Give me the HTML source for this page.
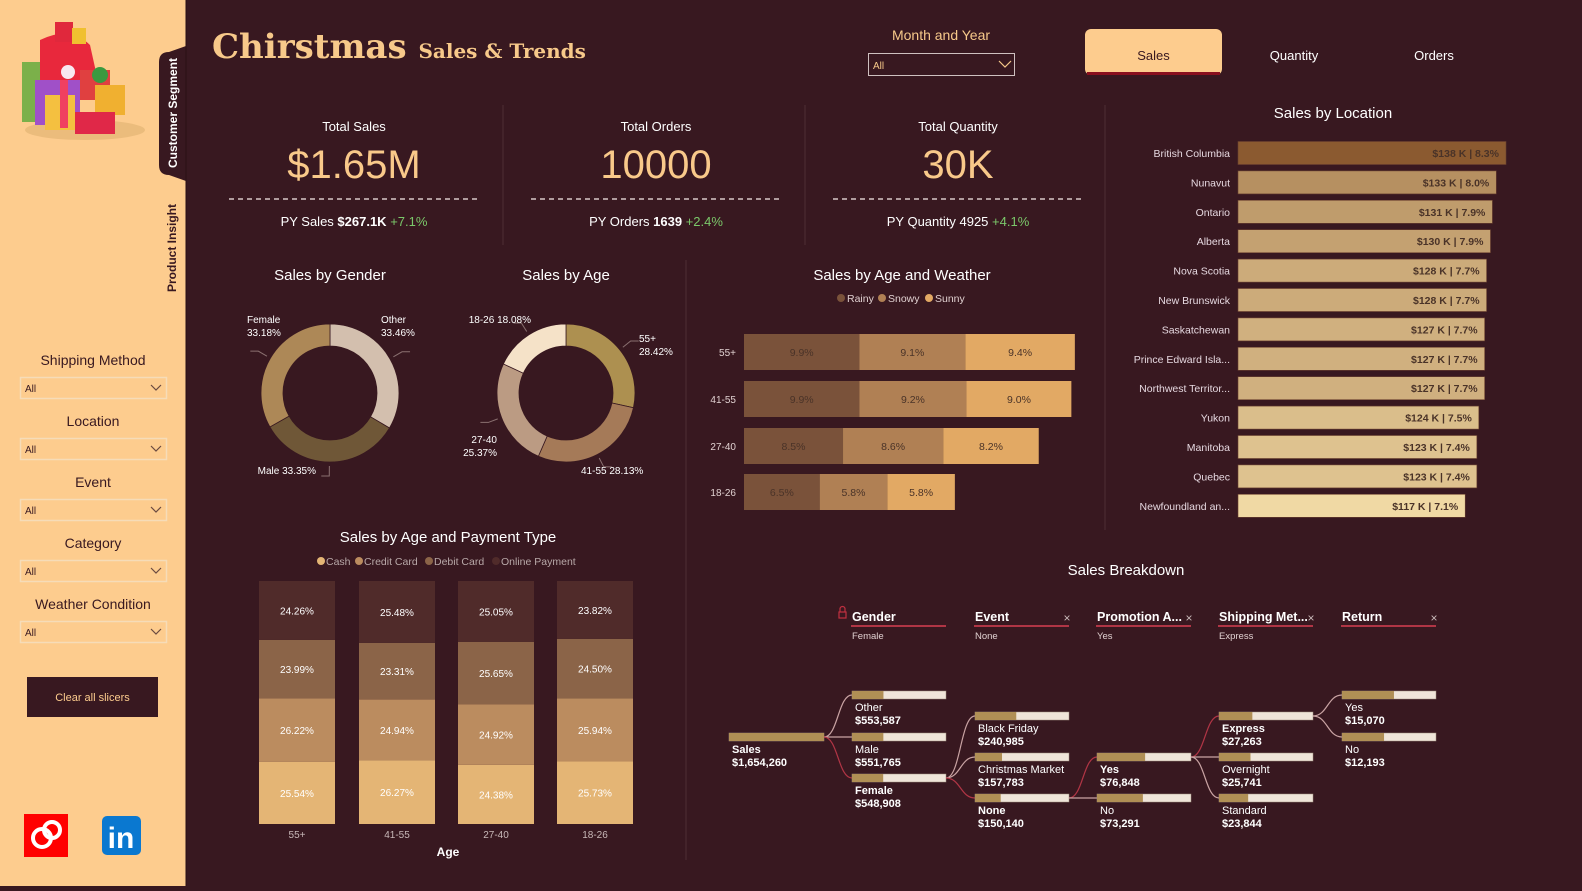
<!DOCTYPE html>
<html><head><meta charset="utf-8">
<style>
html,body{margin:0;padding:0;}
body{width:1582px;height:886px;background:#381820;position:relative;overflow:hidden;font-family:"Liberation Sans",sans-serif;}
svg text{font-family:"Liberation Sans",sans-serif;}
</style></head>
<body>
<svg id="s" width="1582" height="886" xmlns="http://www.w3.org/2000/svg">
  <rect x="0" y="0" width="1582" height="886" fill="#381820"/>
  <g>
    <rect x="0" y="0" width="186" height="886" fill="#fdcc8e"/>
    <g>
      <ellipse cx="85" cy="130" rx="60" ry="10" fill="#e0b070" opacity="0.6"/>
      <rect x="22" y="62" width="20" height="60" fill="#7bb04a"/>
      <path d="M40 40 Q70 25 90 45 L100 90 L40 95 Z" fill="#e8283c"/>
      <rect x="35" y="80" width="45" height="45" fill="#a050c8"/>
      <rect x="45" y="95" width="30" height="35" fill="#f4c040"/>
      <rect x="60" y="80" width="8" height="48" fill="#f04060"/>
      <rect x="80" y="70" width="30" height="30" fill="#e04040"/>
      <rect x="95" y="85" width="30" height="30" fill="#f0b030"/>
      <rect x="75" y="112" width="40" height="22" fill="#e02848"/>
      <rect x="55" y="22" width="18" height="20" fill="#e0283c"/>
      <rect x="72" y="28" width="14" height="16" fill="#f0c030"/>
      <circle cx="68" cy="72" r="7" fill="#f8e8f0"/>
      <circle cx="100" cy="75" r="8" fill="#3a9a40"/>
    </g>
    <path d="M159 62 Q159 52 169 52 L186 46 L186 181 L169 175 Q159 175 159 165 Z" fill="#381820"/>
    <text transform="translate(177,113) rotate(-90)" text-anchor="middle" font-size="12" font-weight="bold" fill="#ffffff">Customer Segment</text>
    <text transform="translate(176,248) rotate(-90)" text-anchor="middle" font-size="12" font-weight="bold" fill="#381820">Product Insight</text>
    <g id="slicers"></g>
    <rect x="27" y="677" width="131" height="40" fill="#381820"/>
    <text x="92.5" y="701" text-anchor="middle" font-size="11" fill="#fdcc8e">Clear all slicers</text>
    <g>
      <rect x="24" y="814" width="44" height="43" fill="#ff0000"/>
      <circle cx="42" cy="838" r="9" fill="none" stroke="#fff" stroke-width="4"/>
      <circle cx="52" cy="830" r="8" fill="none" stroke="#fff" stroke-width="4"/>
    </g>
    <g>
      <rect x="102" y="816" width="39" height="39" rx="5" fill="#0a78d0"/>
      <text x="121" y="848" text-anchor="middle" font-size="30" font-weight="bold" fill="#fff">in</text>
    </g>
  </g>
  <line x1="186" y1="0" x2="186" y2="886" stroke="#2a1015" stroke-width="1"/>

  <text x="212" y="58" font-weight="bold" font-size="34" fill="#f7c98a" style="font-family:'DejaVu Serif',serif">Chirstmas <tspan font-size="20">Sales &amp; Trends</tspan></text>

  <text x="941" y="40" text-anchor="middle" font-size="14" fill="#f7c98a">Month and Year</text>
  <rect x="868.5" y="53.5" width="146" height="22" fill="none" stroke="#cfc0c0"/>
  <text x="873" y="69" font-size="10" fill="#f7c98a">All</text>
  <path d="M999 61 L1005 67 L1011 61" fill="none" stroke="#f7c98a" stroke-width="1.2"/>

  <rect x="1085" y="29" width="137" height="46" rx="6" fill="#fdcc8e"/>
  <rect x="1087" y="72" width="133" height="3" fill="#8a0f1e"/>
  <text x="1153.5" y="60" text-anchor="middle" font-size="13" fill="#381820">Sales</text>
  <text x="1294" y="60" text-anchor="middle" font-size="13" fill="#ffffff">Quantity</text>
  <text x="1434" y="60" text-anchor="middle" font-size="13" fill="#ffffff">Orders</text>

  <g stroke="#43232a" stroke-width="2" fill="none">
    <line x1="503" y1="105" x2="503" y2="245"/>
    <line x1="805" y1="105" x2="805" y2="245"/>
    <line x1="1105" y1="105" x2="1105" y2="530"/>
    <line x1="686" y1="260" x2="686" y2="860"/>
  </g>

  <g id="kpis"></g>
  <g id="gender"></g>
  <g id="age"></g>
  <g id="weather"></g>
  <g id="location"></g>
  <g id="payment"></g>
  <g id="tree"></g>
</svg>

<script>
const NS="http://www.w3.org/2000/svg";
function el(tag,attrs,parent,txt){const e=document.createElementNS(NS,tag);for(const k in attrs)e.setAttribute(k,attrs[k]);if(txt!==undefined)e.textContent=txt;parent.appendChild(e);return e;}
const $=id=>document.getElementById(id);

const slicerLabels=["Shipping Method","Location","Event","Category","Weather Condition"];
const kpiTitles=["Total Sales","Total Orders","Total Quantity"];
const kpiValues=["$1.65M","10000","30K"];
const kpiPyLabels=["PY Sales","PY Orders","PY Quantity"];
const kpiPyValues=["$267.1K","1639","4925"];
const kpiPyBold=[true,true,false];
const kpiGrowth=["+7.1%","+2.4%","+4.1%"];

const genderCats=["Other","Male","Female"];
const genderVals=[33.46,33.35,33.18];
const ageCats=["55+","41-55","27-40","18-26"];
const ageVals=[28.42,28.13,25.37,18.08];

const weatherAges=["55+","41-55","27-40","18-26"];
const weatherSeries=["Rainy","Snowy","Sunny"];
const rainyVals=[9.9,9.9,8.5,6.5];
const snowyVals=[9.1,9.2,8.6,5.8];
const sunnyVals=[9.4,9.0,8.2,5.8];

const locCats=["British Columbia","Nunavut","Ontario","Alberta","Nova Scotia","New Brunswick","Saskatchewan","Prince Edward Isla...","Northwest Territor...","Yukon","Manitoba","Quebec","Newfoundland an..."];
const locSales=[138,133,131,130,128,128,127,127,127,124,123,123,117];
const locPct=[8.3,8.0,7.9,7.9,7.7,7.7,7.7,7.7,7.7,7.5,7.4,7.4,7.1];

const payAges=["55+","41-55","27-40","18-26"];
const paySeries=["Cash","Credit Card","Debit Card","Online Payment"];
const cashVals=[25.54,26.27,24.38,25.73];
const creditVals=[26.22,24.94,24.92,25.94];
const debitVals=[23.99,23.31,25.65,24.50];
const onlineVals=[24.26,25.48,25.05,23.82];

const treeLevels=["Gender","Event","Promotion A...","Shipping Met...","Return"];
const treeSel=["Female","None","Yes","Express",""];
const rootValue=1654260;
const genderNodes=["Other","Male","Female"];
const genderNodeVals=[553587,551765,548908];
const eventNodes=["Black Friday","Christmas Market","None"];
const eventNodeVals=[240985,157783,150140];
const promoNodes=["Yes","No"];
const promoNodeVals=[76848,73291];
const shipNodes=["Express","Overnight","Standard"];
const shipNodeVals=[27263,25741,23844];
const returnNodes=["Yes","No"];
const returnNodeVals=[15070,12193];

(function(){const g=$("slicers");
slicerLabels.forEach((l,i)=>{const y=360+i*61;
 const t=el("text",{x:93,y:y+5,"text-anchor":"middle","font-size":14,fill:"#381820"},g,l);
 
 
 const r=el("rect",{x:20.5,y:y+17.5,width:146,height:21,fill:"none",stroke:"#f6dcb8","stroke-width":1.5},g);
 
 
 el("text",{x:25,y:y+32,"font-size":10,fill:"#381820"},g,"All");
 el("path",{d:`M151 ${y+25} L156 ${y+30} L161 ${y+25}`,fill:"none",stroke:"#6a4a40","stroke-width":1.2},g);
});})();

(function(){const g=$("kpis");const cx=[354,656,958];
kpiTitles.forEach((t,i)=>{const x=cx[i];
 const a=el("text",{x:x,y:131,"text-anchor":"middle","font-size":13,fill:"#ffffff"},g,t);
 
 
 const v=el("text",{x:x,y:178,"text-anchor":"middle","font-size":40,fill:"#f9c98a"},g,kpiValues[i]);
 
 
 el("line",{x1:x-125,y1:199,x2:x+125,y2:199,stroke:"#d8c8c8","stroke-width":1.5,"stroke-dasharray":"5 4"},g);
 const p=el("text",{x:x,y:226,"text-anchor":"middle","font-size":13,fill:"#ffffff"},g);
 
 
 el("tspan",{},p,kpiPyLabels[i]+" ");
 el("tspan",{"font-weight":kpiPyBold[i]?"bold":"normal"},p,kpiPyValues[i]+" ");
 el("tspan",{fill:"#7bc86a"},p,kpiGrowth[i]);
});})();

function donut(gid,title,cats,vals,colors,cx,cy,labelPos){
 const g=$(gid);const R=69,r=47;
 const tt=el("text",{x:cx,y:280,"text-anchor":"middle","font-size":15,fill:"#ffffff"},g,title);
 
 
 const tot=vals.reduce((a,b)=>a+b,0);let a0=-Math.PI/2;
 vals.forEach((v,i)=>{const a1=a0+v/tot*2*Math.PI;
  const p=(a,rr)=>[cx+rr*Math.cos(a),cy+rr*Math.sin(a)];
  const [x1,y1]=p(a0,R),[x2,y2]=p(a1,R),[x3,y3]=p(a1,r),[x4,y4]=p(a0,r);const lg=(a1-a0)>Math.PI?1:0;
  const s=el("path",{d:`M${x1} ${y1} A${R} ${R} 0 ${lg} 1 ${x2} ${y2} L${x3} ${y3} A${r} ${r} 0 ${lg} 0 ${x4} ${y4} Z`,fill:colors[i],stroke:"#381820","stroke-width":0.8},g);
  
  
  const am=(a0+a1)/2;const [lx,ly]=p(am,R+4);const [mx,my]=p(am,R+14);
  const right=Math.cos(am)>=0;const ex=mx+(right?8:-8);
  el("path",{d:`M${lx} ${ly} L${mx} ${my} L${ex} ${my}`,fill:"none",stroke:"#8a7070","stroke-width":1},g);
  const lp=labelPos[i];
  const lt=el("text",{x:lp[0],y:lp[1],"text-anchor":lp[2],"font-size":10,fill:"#ffffff"},g);
  
  
  if(lp[3]){el("tspan",{x:lp[0]},lt,cats[i]);el("tspan",{x:lp[0],dy:13},lt,v.toFixed(2)+"%");}
  else lt.textContent=cats[i]+" "+v.toFixed(2)+"%";
  a0=a1;});
}
donut("gender","Sales by Gender",genderCats,genderVals,["#d3bfae","#6f5737","#ad8857"],330,393,
 [[381,323,"start",1],[316,474,"end",0],[247,323,"start",1]]);
donut("age","Sales by Age",ageCats,ageVals,["#ad9050","#a57a58","#bb9b83","#f5e2c8"],566,393,
 [[639,342,"start",1],[581,474,"start",0],[497,443,"end",1],[531,323,"end",0]]);

(function(){const g=$("weather");const x0=744,sc=11.65,rowY=[352,399,446,492],h=36;
 const tt=el("text",{x:902,y:280,"text-anchor":"middle","font-size":15,fill:"#ffffff"},g,"Sales by Age and Weather");
 
 
 const cols=["#7a523a","#b08054","#e2a964"];const lx=[837,878,925];
 weatherSeries.forEach((s,i)=>{el("circle",{cx:lx[i]+4,cy:298,r:4,fill:cols[i]},g);
  const t=el("text",{x:lx[i]+10,y:302,"font-size":10.5,fill:"#e0d0d0"},g,s);
  
  });
 const series=[rainyVals,snowyVals,sunnyVals];
 weatherAges.forEach((a,j)=>{let x=x0;const cy=rowY[j];
  const at=el("text",{x:736,y:cy+4,"text-anchor":"end","font-size":10,fill:"#e0d0d0"},g,a);
  
  
  series.forEach((sv,i)=>{const w=sv[j]*sc;
   const b=el("rect",{x:x,y:cy-h/2,width:w,height:h,fill:cols[i]},g);
   
   
   el("text",{x:x+w/2,y:cy+4,"text-anchor":"middle","font-size":10.5,fill:"#4a3328"},g,sv[j].toFixed(1)+"%");
   x+=w;});});
})();

(function(){const g=$("location");const x0=1238,sc=268/138,y0=153,step=29.4,h=23;
 const tt=el("text",{x:1333,y:118,"text-anchor":"middle","font-size":15,fill:"#ffffff"},g,"Sales by Location");
 
 
 const mx=Math.max(...locSales),mn=Math.min(...locSales);
 const c1=[139,90,48],c2=[240,217,164];
 locCats.forEach((c,i)=>{const cy=y0+i*step;const w=locSales[i]*sc;
  let t=(mx-locSales[i])/(mx-mn);t=Math.pow(t,0.6);
  const col=`rgb(${c1.map((v,k)=>Math.round(v+(c2[k]-v)*t)).join(",")})`;
  const l=el("text",{x:1230,y:cy+4,"text-anchor":"end","font-size":10.5,fill:"#e6d8e0"},g,c);
  
  
  const b=el("rect",{x:x0,y:cy-h/2,width:w,height:h,fill:col,stroke:"#6a4030","stroke-width":0.6},g);
  
  
  el("text",{x:x0+w-7,y:cy+4,"text-anchor":"end","font-size":10.5,"font-weight":"bold",fill:"#4a3328"},g,"$"+locSales[i]+" K | "+locPct[i].toFixed(1)+"%");
 });})();

(function(){const g=$("payment");const bx=[259,359,458,557],bw=76,yb=824,H=243;
 const tt=el("text",{x:448,y:542,"text-anchor":"middle","font-size":15,fill:"#ffffff"},g,"Sales by Age and Payment Type");
 
 
 const cols=["#e4b575","#bb8c5f","#8b6448","#502b2a"];const lx=[317,355,425,492];
 paySeries.forEach((s,i)=>{el("circle",{cx:lx[i]+4,cy:561,r:4,fill:cols[i]},g);
  const t=el("text",{x:lx[i]+9,y:565,"font-size":10.5,fill:"#b8a8a8"},g,s);
  
  });
 const series=[cashVals,creditVals,debitVals,onlineVals];
 payAges.forEach((a,j)=>{let y=yb;const tot=series.reduce((s,v)=>s+v[j],0);
  series.forEach((sv,i)=>{const hh=sv[j]/tot*H;
   const b=el("rect",{x:bx[j],y:y-hh,width:bw,height:hh,fill:cols[i]},g);
   
   
   el("text",{x:bx[j]+bw/2,y:y-hh/2+4,"text-anchor":"middle","font-size":10,fill:"#ffffff"},g,sv[j].toFixed(2)+"%");
   y-=hh;});
  const xl=el("text",{x:bx[j]+bw/2,y:838,"text-anchor":"middle","font-size":10,fill:"#c8b8b8"},g,a);
  
  });
 const at=el("text",{x:448,y:856,"text-anchor":"middle","font-size":12,"font-weight":"bold",fill:"#ffffff"},g,"Age");
 
 
})();

(function(){const g=$("tree");
 const tt=el("text",{x:1126,y:575,"text-anchor":"middle","font-size":15,fill:"#ffffff"},g,"Sales Breakdown");
 
 
 const colX=[852,975,1097,1219,1342];const bw=94,bh=8;
 treeLevels.forEach((l,i)=>{const x=colX[i];
  const h=el("text",{x:x,y:621,"font-size":12.5,"font-weight":"bold",fill:"#ffffff"},g,l);
  
  
  el("line",{x1:x-1,y1:626,x2:x+94,y2:626,stroke:"#b03545","stroke-width":2},g);
  if(treeSel[i])el("text",{x:x,y:639,"font-size":9.5,fill:"#e0d0d0"},g,treeSel[i]);
  if(i>0){const c=el("text",{x:x+92,y:622,"text-anchor":"middle","font-size":12,fill:"#c8b8b8"},g,"×");
   
   }
 });
 el("rect",{x:839,y:612,width:7,height:6,fill:"none",stroke:"#c03040","stroke-width":1.2},g);
 el("path",{d:"M840 612 V609 a2.5 2.5 0 0 1 5 0 V612",fill:"none",stroke:"#c03040","stroke-width":1.2},g);
 function node(x,y,w,frac,name,val,bold){
  const r=el("rect",{x:x,y:y-bh/2,width:w,height:bh,fill:"#efe5d9",stroke:"#a09080","stroke-width":0.5},g);
  
  
  el("rect",{x:x,y:y-bh/2,width:w*frac,height:bh,fill:"#b08f55"},g);
  const t=el("text",{x:x+3,y:y+16,"font-size":11,"font-weight":bold?"bold":"normal",fill:"#ffffff"},g);
  
  
  el("tspan",{x:x+3},t,name);
  el("tspan",{x:x+3,dy:13,"font-weight":"bold"},t,"$"+val.toLocaleString("en-US"));
 }
 function link(x1,y1,x2,y2,sel){const mx=(x1+x2)/2;
  el("path",{d:`M${x1} ${y1} C${mx} ${y1} ${mx} ${y2} ${x2} ${y2}`,fill:"none",stroke:sel?"#b03545":"#c9a3a3","stroke-width":1.2},g);}
 const rootY=737;
 node(729,rootY,95,1,"Sales",rootValue,true);
 const lvl=[[genderNodes,genderNodeVals,[695,737,778],2],[eventNodes,eventNodeVals,[716,757,798],2],
  [promoNodes,promoNodeVals,[757,798],0],[shipNodes,shipNodeVals,[716,757,798],0],[returnNodes,returnNodeVals,[695,737],-1]];
 let parentX=824,parentY=rootY,parentVal=rootValue;
 lvl.forEach((L,i)=>{const [names,vals,ys,selIdx]=L;const x=colX[i];
  names.forEach((n,j)=>{link(parentX,parentY,x,ys[j],j===selIdx);});
  names.forEach((n,j)=>{node(x,ys[j],bw,vals[j]/parentVal,n,vals[j],j===selIdx);});
  if(selIdx>=0){parentX=x+bw;parentY=ys[selIdx];parentVal=vals[selIdx];}
 });
})();
</script>
</body></html>
